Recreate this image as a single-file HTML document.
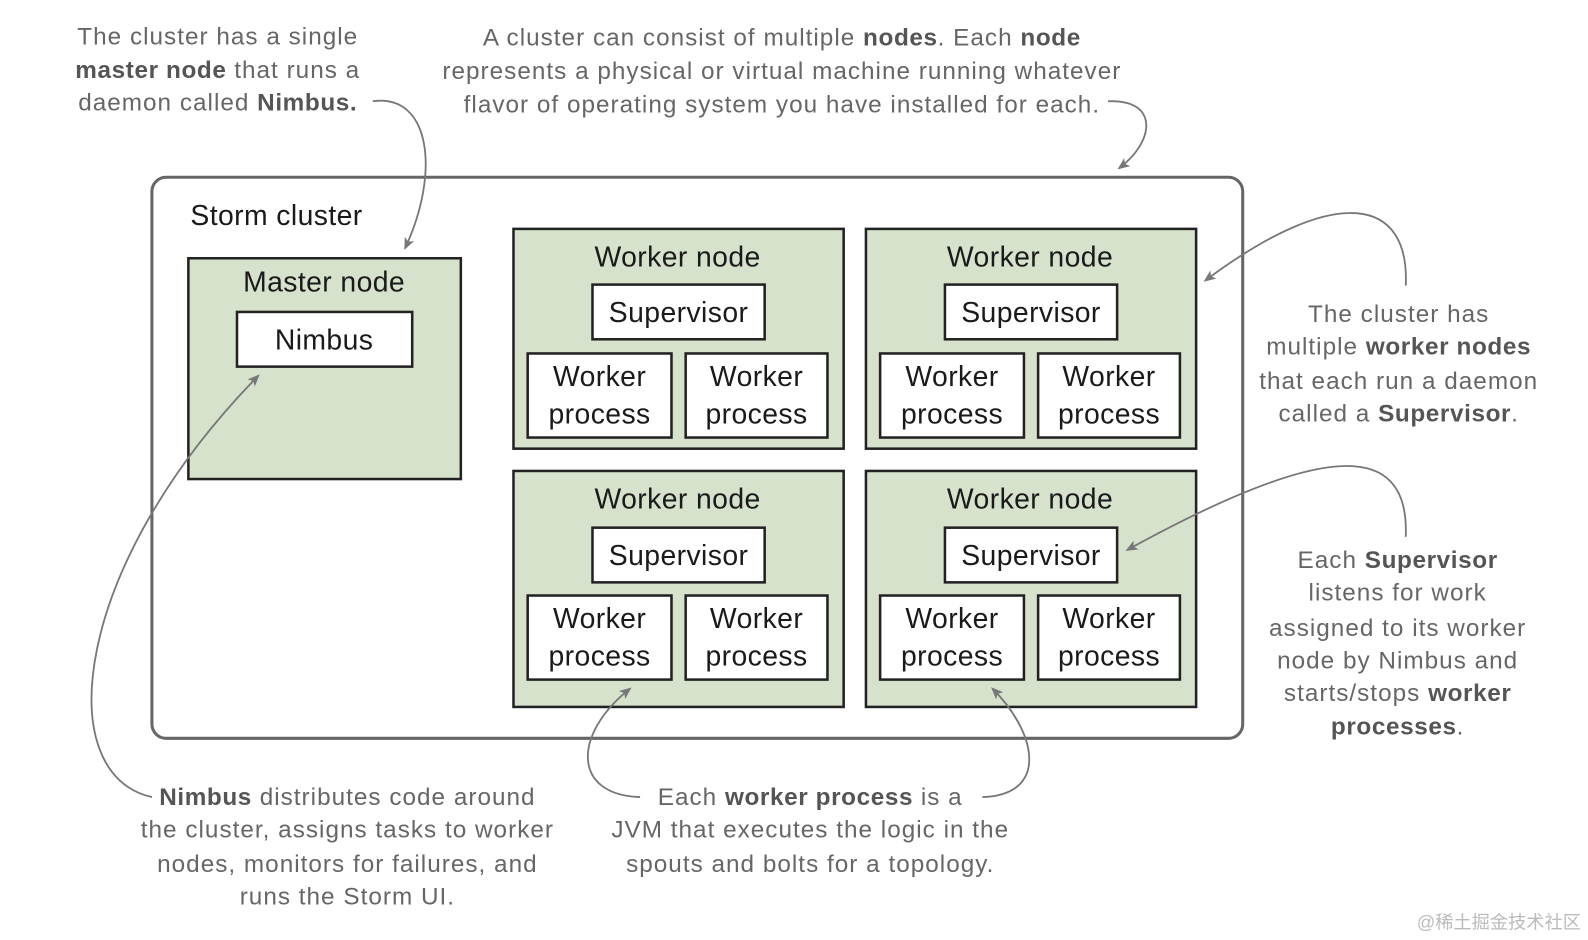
<!DOCTYPE html>
<html><head><meta charset="utf-8"><style>
html,body{margin:0;padding:0;background:#fff;}
svg{display:block;}
.a{font-family:"Liberation Sans",sans-serif;font-size:24px;letter-spacing:1px;fill:#666;text-anchor:middle;}
.a tspan.b{font-weight:bold;fill:#555;letter-spacing:0.6px;}
.t{font-family:"Liberation Sans",sans-serif;font-size:28px;letter-spacing:0.4px;fill:#1a1a1a;text-anchor:middle;}
.g{fill:#d6e2cc;stroke:#222;stroke-width:2.5;}
.w{fill:#fff;stroke:#222;stroke-width:2.5;}
.c{fill:none;stroke:#777;stroke-width:1.8;}
</style></head><body>
<svg width="1588" height="940" viewBox="0 0 1588 940" xmlns="http://www.w3.org/2000/svg">
<defs><marker id="m" markerWidth="12" markerHeight="10" refX="10" refY="5" orient="auto" markerUnits="userSpaceOnUse"><path d="M0,0 L12,5 L0,10 L3,5 z" fill="#777"/></marker></defs>
<g transform="scale(1.0128)">
<rect x="150" y="175" width="1077" height="554" rx="14" fill="#fff" stroke="#666" stroke-width="3"/>
<text x="188" y="222" class="t" style="text-anchor:start">Storm cluster</text>
<rect class="g" x="186" y="255" width="269" height="218"/>
<text class="t" x="320" y="288">Master node</text>
<rect class="w" x="234" y="308" width="173" height="54"/>
<text class="t" x="320" y="345">Nimbus</text>

<g id="wn">
<rect class="g" x="507" y="226" width="326" height="217"/>
<text class="t" x="669" y="263">Worker node</text>
<rect class="w" x="585" y="281" width="170" height="54"/>
<text class="t" x="670" y="318">Supervisor</text>
<rect class="w" x="521" y="349" width="142" height="83"/>
<rect class="w" x="677" y="349" width="140" height="83"/>
<text class="t" x="592" y="381">Worker</text><text class="t" x="592" y="418">process</text>
<text class="t" x="747" y="381">Worker</text><text class="t" x="747" y="418">process</text>
</g>
<use href="#wn" x="348" y="0"/>
<g id="wb" transform="translate(0,239)">
<rect class="g" x="507" y="226" width="326" height="233"/>
<text class="t" x="669" y="263">Worker node</text>
<rect class="w" x="585" y="282" width="170" height="54"/>
<text class="t" x="670" y="319">Supervisor</text>
<rect class="w" x="521" y="349" width="142" height="83"/>
<rect class="w" x="677" y="349" width="140" height="83"/>
<text class="t" x="592" y="381">Worker</text><text class="t" x="592" y="418">process</text>
<text class="t" x="747" y="381">Worker</text><text class="t" x="747" y="418">process</text>
</g>
<use href="#wb" x="348" y="0"/>

<path class="c" marker-end="url(#m)" d="M368,100 C425,92 435,170 400,245"/>
<path class="c" marker-end="url(#m)" d="M1094,100 C1145,98 1140,140 1105,166"/>
<path class="c" marker-end="url(#m)" d="M1388,282 C1392,195 1320,180 1190,277"/>
<path class="c" marker-end="url(#m)" d="M1388,530 C1392,430 1300,440 1113,543"/>
<path class="c" marker-end="url(#m)" d="M150,787 C50,765 70,560 255,371"/>
<path class="c" marker-end="url(#m)" d="M632,787 C565,785 565,725 622,680"/>
<path class="c" marker-end="url(#m)" d="M970,787 C1035,785 1025,725 980,680"/>

<text class="a" x="215" y="44">The cluster has a single</text>
<text class="a" x="215" y="77"><tspan class="b">master node</tspan> that runs a</text>
<text class="a" x="215" y="109">daemon called <tspan class="b">Nimbus.</tspan></text>
<text class="a" x="772" y="45">A cluster can consist of multiple <tspan class="b">nodes</tspan>. Each <tspan class="b">node</tspan></text>
<text class="a" x="772" y="78">represents a physical or virtual machine running whatever</text>
<text class="a" x="772" y="111">flavor of operating system you have installed for each.</text>
<text class="a" x="1381" y="318">The cluster has</text>
<text class="a" x="1381" y="350">multiple <tspan class="b">worker nodes</tspan></text>
<text class="a" x="1381" y="384">that each run a daemon</text>
<text class="a" x="1381" y="416">called a <tspan class="b">Supervisor</tspan>.</text>
<text class="a" x="1380" y="561">Each <tspan class="b">Supervisor</tspan></text>
<text class="a" x="1380" y="593">listens for work</text>
<text class="a" x="1380" y="628">assigned to its worker</text>
<text class="a" x="1380" y="660">node by Nimbus and</text>
<text class="a" x="1380" y="692">starts/stops <tspan class="b">worker</tspan></text>
<text class="a" x="1380" y="725"><tspan class="b">processes</tspan>.</text>
<text class="a" x="343" y="795"><tspan class="b">Nimbus</tspan> distributes code around</text>
<text class="a" x="343" y="827">the cluster, assigns tasks to worker</text>
<text class="a" x="343" y="861">nodes, monitors for failures, and</text>
<text class="a" x="343" y="893">runs the Storm UI.</text>
<text class="a" x="800" y="795">Each <tspan class="b">worker process</tspan> is a</text>
<text class="a" x="800" y="827">JVM that executes the logic in the</text>
<text class="a" x="800" y="861">spouts and bolts for a topology.</text>
<text x="1561" y="917" style="font-family:'Liberation Sans','Noto Sans CJK SC',sans-serif;font-size:18px;fill:#bbb;text-anchor:end">@稀土掘金技术社区</text>
</g>
</svg>
</body></html>
